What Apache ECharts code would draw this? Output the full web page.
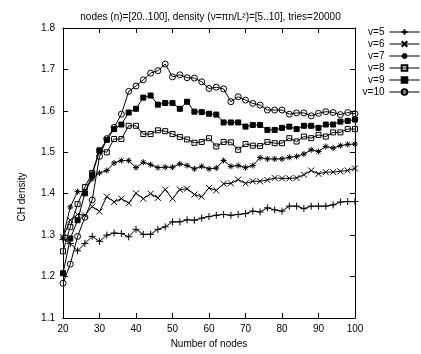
<!DOCTYPE html>
<html>
<head>
<meta charset="utf-8">
<script src="https://cdn.jsdelivr.net/npm/echarts@6/dist/echarts.min.js"></script>
<style>html,body{margin:0;padding:0;background:#fff}#c{width:421px;height:354px}</style>
</head>
<body>
<div id="c"></div>
<script>
const nodes = [20,22,24,26,28,30,32,34,36,38,40,42,44,46,48,50,52,54,56,58,60,62,64,66,68,70,72,74,76,78,80,82,84,86,88,90,92,94,96,98,100];
const v5 = [1.29,1.28,1.262,1.28,1.297,1.285,1.30,1.305,1.304,1.296,1.314,1.302,1.302,1.314,1.32,1.332,1.332,1.337,1.336,1.341,1.345,1.348,1.35,1.348,1.35,1.352,1.358,1.356,1.366,1.361,1.358,1.37,1.37,1.364,1.37,1.37,1.37,1.373,1.38,1.381,1.381];
const v6 = [1.295,1.336,1.35,1.348,1.369,1.357,1.393,1.38,1.388,1.377,1.401,1.388,1.40,1.39,1.41,1.388,1.41,1.412,1.398,1.393,1.414,1.408,1.424,1.425,1.434,1.425,1.43,1.43,1.433,1.438,1.437,1.437,1.438,1.446,1.456,1.448,1.452,1.452,1.454,1.456,1.461];
const v7 = [1.295,1.368,1.405,1.405,1.436,1.45,1.456,1.474,1.48,1.48,1.463,1.476,1.47,1.463,1.464,1.464,1.472,1.468,1.46,1.466,1.46,1.462,1.48,1.466,1.468,1.463,1.468,1.487,1.484,1.484,1.484,1.488,1.49,1.496,1.506,1.502,1.514,1.51,1.516,1.519,1.52];
const v8 = [1.261,1.32,1.375,1.416,1.45,1.505,1.50,1.532,1.532,1.564,1.564,1.544,1.544,1.553,1.551,1.544,1.537,1.531,1.523,1.525,1.534,1.514,1.525,1.524,1.506,1.52,1.516,1.515,1.525,1.522,1.522,1.534,1.526,1.538,1.534,1.542,1.538,1.548,1.548,1.556,1.556];
const v9 = [1.208,1.292,1.336,1.401,1.446,1.503,1.53,1.556,1.567,1.596,1.605,1.632,1.637,1.615,1.619,1.619,1.605,1.622,1.598,1.597,1.593,1.591,1.572,1.572,1.572,1.562,1.566,1.566,1.554,1.554,1.559,1.562,1.556,1.564,1.564,1.559,1.567,1.567,1.574,1.576,1.579];
const v10 = [1.184,1.23,1.297,1.343,1.385,1.49,1.533,1.56,1.592,1.647,1.66,1.675,1.691,1.697,1.713,1.682,1.687,1.68,1.679,1.67,1.654,1.657,1.653,1.622,1.634,1.626,1.618,1.614,1.602,1.602,1.602,1.592,1.595,1.595,1.588,1.594,1.598,1.596,1.591,1.596,1.593];
const seriesNames = ['v=5','v=6','v=7','v=8','v=9','v=10'];
const yTicks = [1.1,1.2,1.3,1.4,1.5,1.6,1.7,1.8];
const xTicks = [20,30,40,50,60,70,80,90,100];

const allVals = [v5,v6,v7,v8,v9,v10];
const symbols = [
  {symbol:'path://M0,5L10,5M5,0L5,10', size:7, fill:'#000'},
  {symbol:'path://M0,0L10,10M0,10L10,0', size:6, fill:'#000'},
  {symbol:'path://M0,5L10,5M5,0L5,10M1.5,1.5L8.5,8.5M1.5,8.5L8.5,1.5', size:6, fill:'#000'},
  {symbol:'rect', size:5, fill:'rgba(0,0,0,0)'},
  {symbol:'rect', size:5, fill:'#000'},
  {symbol:'circle', size:6, fill:'rgba(0,0,0,0)'}
];
const font = 'Liberation Sans, Arial, sans-serif';
const chart = echarts.init(document.getElementById('c'), null, {renderer:'canvas'});
const series = allVals.map((vals, k) => ({
  name: seriesNames[k],
  type: 'line',
  data: nodes.map((n, i) => [n, vals[i]]),
  symbol: symbols[k].symbol,
  symbolSize: symbols[k].size,
  showAllSymbol: true,
  lineStyle: {color:'#000', width:1},
  itemStyle: {color: symbols[k].fill, borderColor:'#000', borderWidth:1},
  emphasis: {disabled:true},
  animation: false,
  z: 2 + k
}));
const axisCommon = {
  type:'value',
  axisLine:{show:true, lineStyle:{color:'#000', width:1}},
  axisTick:{show:true, inside:true, length:5, lineStyle:{color:'#000'}},
  splitLine:{show:false}
};
chart.setOption({
  animation:false,
  backgroundColor:'#fff',
  textStyle:{fontFamily:font},
  title:{
    text:'nodes (n)=[20..100], density (ν=πn/L²)=[5..10], tries=20000',
    left:'center', top:7,
    textStyle:{fontSize:10, fontWeight:'normal', color:'#000', fontFamily:font}
  },
  legend:{
    orient:'vertical', right:1, top:27, align:'right', padding:0,
    itemWidth:30, itemHeight:7, itemGap:2,
    lineStyle:{width:1},
    textStyle:{fontSize:10, lineHeight:8, color:'#000', fontFamily:font},
    data: seriesNames
  },
  grid:{left:63, right:66, top:28, bottom:36},
  xAxis:[
    Object.assign({}, axisCommon, {
      min:20, max:100, interval:10, position:'bottom',
      axisLabel:{show:true, fontSize:10, color:'#000', margin:6, fontFamily:font,
        formatter: v => xTicks.includes(v) ? String(v) : ''},
      name:'Number of nodes', nameLocation:'middle', nameGap:20,
      nameTextStyle:{fontSize:10, color:'#000', fontFamily:font}
    }),
    Object.assign({}, axisCommon, {
      min:20, max:100, interval:10, position:'top',
      axisLabel:{show:false}
    })
  ],
  yAxis:[
    Object.assign({}, axisCommon, {
      min:1.1, max:1.8, interval:0.1, position:'left',
      axisLabel:{show:true, fontSize:10, color:'#000', margin:8, fontFamily:font,
        formatter: v => { const t = yTicks.find(y => Math.abs(y - v) < 1e-6); return t !== undefined ? t.toFixed(1) : ''; }},
      name:'CH density', nameLocation:'middle', nameGap:36,
      nameTextStyle:{fontSize:10, color:'#000', fontFamily:font, padding:[0,48,0,0]}
    }),
    Object.assign({}, axisCommon, {
      min:1.1, max:1.8, interval:0.1, position:'right',
      axisLabel:{show:false}
    })
  ],
  series: series
});
</script>
</body>
</html>
